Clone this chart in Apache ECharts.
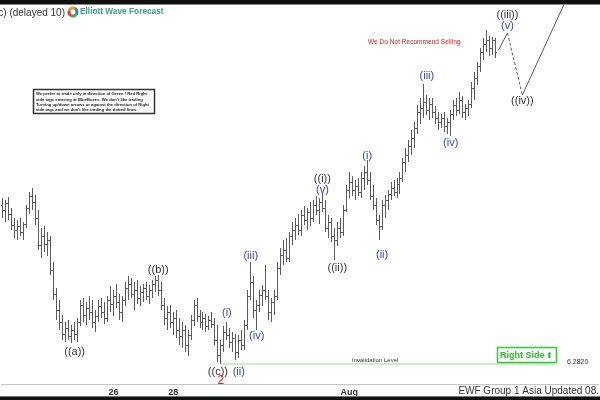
<!DOCTYPE html>
<html><head><meta charset="utf-8">
<script src="https://cdn.jsdelivr.net/npm/echarts@6/dist/echarts.min.js"></script>
<style>html,body{margin:0;padding:0;background:#fff}#c{width:600px;height:400px}</style>
</head><body><div id="c"></div>
<script>
// ---- data (prices) ----
const barOpen = [
6.3138,6.3128,6.3142,6.3120,6.3098,6.3088,6.3096,6.3084,6.3100,6.3132,
6.3156,6.3144,6.3112,6.3058,6.3076,6.3060,6.3068,6.3008,6.2960,6.2928,
6.2904,6.2880,6.2892,6.2876,6.2888,6.2880,6.2904,6.2938,6.2918,6.2932,
6.2924,6.2904,6.2916,6.2936,6.2924,6.2912,6.2948,6.2940,6.2956,6.2944,
6.2924,6.2948,6.2972,6.2980,6.2960,6.2968,6.2952,6.2964,6.2972,6.2956,
6.2968,6.2980,6.2988,6.2968,6.2938,6.2912,6.2924,6.2904,6.2912,6.2888,
6.2876,6.2888,6.2858,6.2878,6.2908,6.2938,6.2916,6.2904,6.2912,6.2896,
6.2908,6.2900,6.2868,6.2838,6.2858,6.2884,6.2878,6.2864,6.2872,6.2844,
6.2868,6.2858,6.2898,6.2956,6.2984,6.2928,6.2938,6.2958,6.2968,6.2956,
6.2924,6.2944,6.2956,6.3012,6.3038,6.3048,6.3032,6.3076,6.3088,6.3098,
6.3088,6.3118,6.3108,6.3124,6.3112,6.3138,6.3128,6.3144,6.3132,6.3092,
6.3104,6.3076,6.3068,6.3092,6.3084,6.3128,6.3168,6.3184,6.3168,6.3176,
6.3164,6.3192,6.3204,6.3188,6.3156,6.3138,6.3108,6.3096,6.3138,6.3148,
6.3160,6.3172,6.3164,6.3180,6.3192,6.3224,6.3238,6.3256,6.3272,6.3292,
6.3324,6.3332,6.3344,6.3328,6.3340,6.3324,6.3312,6.3304,6.3312,6.3296,
6.3304,6.3320,6.3338,6.3328,6.3348,6.3324,6.3332,6.3340,6.3372,6.3392,
6.3416,6.3444,6.3460,6.3468,6.3452,6.3468];
const barHigh = [
6.3152,6.3148,6.3154,6.3132,6.3112,6.3108,6.3112,6.3104,6.3138,6.3164,
6.3172,6.3158,6.3128,6.3092,6.3096,6.3084,6.3076,6.3024,6.2972,6.2948,
6.2918,6.2904,6.2908,6.2898,6.2904,6.2912,6.2948,6.2952,6.2944,6.2956,
6.2948,6.2928,6.2948,6.2952,6.2944,6.2956,6.2976,6.2968,6.2980,6.2960,
6.2956,6.2984,6.2996,6.2992,6.2984,6.2988,6.2976,6.2980,6.2984,6.2978,
6.2988,6.2996,6.2998,6.2984,6.2952,6.2936,6.2938,6.2924,6.2928,6.2912,
6.2904,6.2898,6.2888,6.2918,6.2948,6.2952,6.2928,6.2924,6.2920,6.2916,
6.2924,6.2912,6.2898,6.2868,6.2896,6.2904,6.2892,6.2884,6.2880,6.2878,
6.2888,6.2908,6.2968,6.3024,6.2996,6.2948,6.2968,6.2978,6.3018,6.2968,
6.2952,6.2968,6.3024,6.3052,6.3068,6.3072,6.3084,6.3104,6.3112,6.3120,
6.3128,6.3136,6.3132,6.3144,6.3148,6.3156,6.3152,6.3164,6.3148,6.3118,
6.3112,6.3092,6.3104,6.3112,6.3138,6.3178,6.3204,6.3196,6.3188,6.3192,
6.3204,6.3216,6.3228,6.3204,6.3178,6.3152,6.3118,6.3148,6.3158,6.3168,
6.3184,6.3188,6.3192,6.3204,6.3232,6.3252,6.3268,6.3288,6.3304,6.3338,
6.3352,6.3380,6.3358,6.3352,6.3352,6.3336,6.3324,6.3320,6.3324,6.3312,
6.3328,6.3348,6.3352,6.3364,6.3356,6.3340,6.3348,6.3384,6.3404,6.3424,
6.3452,6.3472,6.3488,6.3476,6.3474,6.3472];
const barLow = [
6.3112,6.3104,6.3108,6.3088,6.3072,6.3068,6.3076,6.3068,6.3092,6.3120,
6.3128,6.3098,6.3048,6.3032,6.3044,6.3036,6.2998,6.2948,6.2908,6.2888,
6.2868,6.2864,6.2868,6.2862,6.2868,6.2864,6.2896,6.2904,6.2898,6.2908,
6.2892,6.2884,6.2904,6.2912,6.2900,6.2904,6.2924,6.2916,6.2932,6.2908,
6.2904,6.2936,6.2948,6.2952,6.2928,6.2940,6.2936,6.2944,6.2948,6.2940,
6.2952,6.2964,6.2956,6.2928,6.2898,6.2888,6.2892,6.2878,6.2872,6.2858,
6.2852,6.2844,6.2836,6.2868,6.2896,6.2904,6.2892,6.2888,6.2884,6.2888,
6.2892,6.2858,6.2824,6.2820,6.2844,6.2868,6.2852,6.2844,6.2828,6.2832,
6.2848,6.2848,6.2888,6.2948,6.2912,6.2888,6.2924,6.2936,6.2948,6.2908,
6.2904,6.2918,6.2948,6.2998,6.3018,6.3024,6.3024,6.3058,6.3068,6.3078,
6.3076,6.3098,6.3088,6.3096,6.3104,6.3118,6.3100,6.3124,6.3084,6.3072,
6.3064,6.3028,6.3056,6.3072,6.3076,6.3124,6.3152,6.3156,6.3148,6.3156,
6.3152,6.3168,6.3178,6.3148,6.3128,6.3098,6.3068,6.3088,6.3112,6.3128,
6.3148,6.3156,6.3152,6.3160,6.3184,6.3204,6.3224,6.3238,6.3252,6.3280,
6.3300,6.3312,6.3318,6.3308,6.3312,6.3300,6.3288,6.3292,6.3284,6.3280,
6.3276,6.3308,6.3316,6.3320,6.3312,6.3308,6.3316,6.3332,6.3348,6.3378,
6.3404,6.3428,6.3444,6.3436,6.3438,6.3432];
const barClose = [
6.3128,6.3142,6.3120,6.3098,6.3088,6.3096,6.3084,6.3100,6.3132,6.3156,
6.3144,6.3112,6.3058,6.3076,6.3060,6.3068,6.3008,6.2960,6.2928,6.2904,
6.2880,6.2892,6.2876,6.2888,6.2880,6.2904,6.2938,6.2918,6.2932,6.2924,
6.2904,6.2916,6.2936,6.2924,6.2912,6.2948,6.2940,6.2956,6.2944,6.2924,
6.2948,6.2972,6.2980,6.2960,6.2968,6.2952,6.2964,6.2972,6.2956,6.2968,
6.2980,6.2988,6.2968,6.2938,6.2912,6.2924,6.2904,6.2912,6.2888,6.2876,
6.2888,6.2858,6.2878,6.2908,6.2938,6.2916,6.2904,6.2912,6.2896,6.2908,
6.2900,6.2868,6.2838,6.2858,6.2884,6.2878,6.2864,6.2872,6.2844,6.2868,
6.2858,6.2898,6.2956,6.2984,6.2928,6.2938,6.2958,6.2968,6.2956,6.2924,
6.2944,6.2956,6.3012,6.3038,6.3048,6.3032,6.3076,6.3088,6.3098,6.3088,
6.3118,6.3108,6.3124,6.3112,6.3138,6.3128,6.3144,6.3132,6.3092,6.3104,
6.3076,6.3068,6.3092,6.3084,6.3128,6.3168,6.3184,6.3168,6.3176,6.3164,
6.3192,6.3204,6.3188,6.3156,6.3138,6.3108,6.3096,6.3138,6.3148,6.3160,
6.3172,6.3164,6.3180,6.3192,6.3224,6.3238,6.3256,6.3272,6.3292,6.3324,
6.3332,6.3344,6.3328,6.3340,6.3324,6.3312,6.3304,6.3312,6.3296,6.3304,
6.3320,6.3338,6.3328,6.3348,6.3324,6.3332,6.3340,6.3372,6.3392,6.3416,
6.3444,6.3460,6.3468,6.3452,6.3468,6.3444];

const slotCount = 200;                 // time slots on the x axis (bars + projection room)
const dateTickSlots = [37, 57, 116];
const dateTickLabels = ['26', '28', 'Aug'];

const invalidationLevel = 6.2820;
const invalidationFrom = 73, invalidationTo = 185;

// projected path: (v) top -> ((iv)) -> up
const projSlots  = [166, 169, 174, 188];
const projPrices = [6.3448, 6.3482, 6.3358, 6.3540];

// wave labels [slot, price]
const blackLabelText  = ['((a))', '((b))', '((c))', '((i))', '((ii))', '((iii))', '((iv))'];
const blackLabelSlot  = [24, 52, 72, 107, 112, 169, 174];
const blackLabelPrice = [6.2844, 6.3008, 6.2804, 6.3190, 6.3012, 6.3518, 6.3346];
const blueLabelText   = ['(ii)', '(i)', '(iii)', '(iv)', '(v)', '(i)', '(ii)', '(iii)', '(iv)', '(v)'];
const blueLabelSlot   = [79, 75, 83, 85, 107, 122, 127, 142, 150, 169];
const blueLabelPrice  = [6.2804, 6.2922, 6.3036, 6.2876, 6.3168, 6.3236, 6.3038, 6.3396, 6.3262, 6.3496];
const redLabelText    = ['2'];
const redLabelSlot    = [73];
const redLabelPrice   = [6.2786];

// ---- build ----
const categories = Array.from({length: slotCount}, (_, i) => {
  const k = dateTickSlots.indexOf(i); return k >= 0 ? dateTickLabels[k] : '';
});
const ohlc = barOpen.map((o, i) => [i, o, barHigh[i], barLow[i], barClose[i]]);
const FONT = '"Liberation Sans", Arial, sans-serif';

function renderOHLC(params, api) {
  const i = api.value(0);
  const pO = api.coord([i, api.value(1)]);
  const pH = api.coord([i, api.value(2)]);
  const pL = api.coord([i, api.value(3)]);
  const pC = api.coord([i, api.value(4)]);
  const x = Math.floor(pO[0]) + 0.5;
  const st = {stroke: '#5a5a5a', lineWidth: 1};
  const yo = Math.round(pO[1]) + 0.5, yc = Math.round(pC[1]) + 0.5;
  return {type: 'group', children: [
    {type: 'line', shape: {x1: x, y1: Math.round(pH[1]), x2: x, y2: Math.round(pL[1])}, style: st},
    {type: 'line', shape: {x1: x - 1.5, y1: yo, x2: x, y2: yo}, style: st},
    {type: 'line', shape: {x1: x, y1: yc, x2: x + 1.5, y2: yc}, style: st}
  ]};
}
function labelSeries(texts, slots, prices, color, size) {
  return {
    type: 'custom', silent: true, z: 5,
    data: slots.map((s, i) => [s, prices[i]]),
    encode: {x: 0, y: 1},
    renderItem: (params, api) => {
      const p = api.coord([api.value(0), api.value(1)]);
      return {type: 'text', x: p[0], y: p[1], style: {
        text: texts[params.dataIndex], fill: color, font: size + 'px ' + FONT,
        align: 'center', verticalAlign: 'middle'}};
    }
  };
}
function segment(a, b, dashed) {
  return {type: 'line', silent: true, symbol: 'none', z: 3,
    data: [[projSlots[a], projPrices[a]], [projSlots[b], projPrices[b]]],
    lineStyle: {color: '#5a5a5a', width: 1, type: dashed ? [3, 2] : 'solid'}};
}

const chart = echarts.init(document.getElementById('c'), null, {renderer: 'canvas'});
chart.setOption({
  animation: false,
  backgroundColor: '#fff',
  grid: {left: 0, right: 0, top: 4, bottom: 16},
  xAxis: {type: 'category', data: categories, boundaryGap: true,
    axisLine: {lineStyle: {color: '#c4c4c4', width: 1}},
    axisTick: {show: false},
    axisLabel: {interval: 0, fontSize: 9, fontWeight: 'bold', color: '#333', margin: 4, fontFamily: FONT},
    splitLine: {show: false}},
  yAxis: {type: 'value', min: 6.2780, max: 6.3540, show: false, splitLine: {show: false}},
  series: [
    {type: 'line', silent: true, symbol: 'none', z: 2,
      data: [[invalidationFrom, invalidationLevel], [invalidationTo, invalidationLevel]],
      lineStyle: {color: '#94e294', width: 1.2}},
    {type: 'custom', silent: true, z: 4, data: ohlc, encode: {x: 0, y: [1, 2, 3, 4]}, renderItem: renderOHLC},
    segment(0, 1, false), segment(1, 2, true), segment(2, 3, false),
    labelSeries(blackLabelText, blackLabelSlot, blackLabelPrice, '#333', 11),
    labelSeries(blueLabelText, blueLabelSlot, blueLabelPrice, '#3a44b0', 11),
    labelSeries(redLabelText, redLabelSlot, redLabelPrice, '#d02828', 12)
  ],
  graphic: [
    {type: 'rect', left: 0, top: 0, shape: {width: 600, height: 4}, style: {fill: '#111'}, z: 100},
    {type: 'rect', left: 0, top: 4, shape: {width: 600, height: 1}, style: {fill: '#888'}, z: 100},
    {type: 'rect', left: 0, top: 397, shape: {width: 600, height: 3}, style: {fill: '#111'}, z: 100},
    {type: 'rect', left: 0, top: 396, shape: {width: 600, height: 1}, style: {fill: '#777'}, z: 100},
    {type: 'text', x: 65, y: 13, z: 50, style: {text: 'c) (delayed 10)', fill: '#333', font: '10px ' + FONT, align: 'right', verticalAlign: 'middle'}},
    {type: 'arc', shape: {cx: 73, cy: 12, r: 4, startAngle: -Math.PI * 0.9, endAngle: -Math.PI * 0.35}, style: {stroke: '#e8a020', lineWidth: 3, fill: null}, z: 50},
    {type: 'arc', shape: {cx: 73, cy: 12, r: 4, startAngle: -Math.PI * 0.35, endAngle: Math.PI * 0.2}, style: {stroke: '#2f7fd0', lineWidth: 3, fill: null}, z: 50},
    {type: 'arc', shape: {cx: 73, cy: 12, r: 4, startAngle: Math.PI * 0.2, endAngle: Math.PI * 0.65}, style: {stroke: '#3bb060', lineWidth: 3, fill: null}, z: 50},
    {type: 'arc', shape: {cx: 73, cy: 12, r: 4, startAngle: Math.PI * 0.65, endAngle: Math.PI * 1.1}, style: {stroke: '#d84040', lineWidth: 3, fill: null}, z: 50},
    {type: 'text', x: 80, y: 12, z: 50, style: {text: 'Elliott Wave Forecast', fill: '#3a9e8c', font: 'bold 8.3px ' + FONT, verticalAlign: 'middle'}},
    {type: 'rect', z: 50, shape: {x: 33.5, y: 89.5, width: 121, height: 24}, style: {fill: '#fff', stroke: '#333', lineWidth: 1.5}},
    {type: 'text', x: 36, y: 91.5, z: 51, style: {
      text: "We prefer to trade only in direction of Green / Red Right\nside tags entering at BlueBoxes. We don't like trading\nTurning up/down arrows or against the direction of Right\nside tags and we don't like trading the dotted lines.",
      fill: '#222', font: 'bold 4.2px ' + FONT, lineHeight: 5.3, verticalAlign: 'top'}},
    {type: 'text', x: 368, y: 42, z: 50, scaleX: 0.82, style: {text: 'We Do Not Recommend Selling', fill: '#d42020', font: '8px ' + FONT, verticalAlign: 'middle'}},
    {type: 'text', x: 352, y: 360, z: 50, style: {text: 'Invalidation Level', fill: '#333', font: '6px ' + FONT, verticalAlign: 'middle'}},
    {type: 'rect', z: 50, shape: {x: 497.5, y: 347.5, width: 59, height: 15}, style: {fill: '#fff', stroke: '#2ecc2e', lineWidth: 1.5}},
    {type: 'text', x: 500, y: 355.5, z: 51, style: {text: 'Right Side', fill: '#22c022', font: 'bold 9px ' + FONT, verticalAlign: 'middle'}},
    {type: 'text', x: 549.5, y: 355.5, z: 51, style: {text: '⬆', fill: '#22c022', font: 'bold 8px "DejaVu Sans"', align: 'center', verticalAlign: 'middle'}},
    {type: 'text', x: 567, y: 362, z: 50, style: {text: '6.2820', fill: '#333', font: '7px ' + FONT, verticalAlign: 'middle'}},
    {type: 'text', x: 599, y: 391, z: 50, style: {text: 'EWF Group 1 Asia Updated 08.', fill: '#333', font: '10px ' + FONT, align: 'right', verticalAlign: 'middle'}}
  ]
});
</script>
</body></html>
